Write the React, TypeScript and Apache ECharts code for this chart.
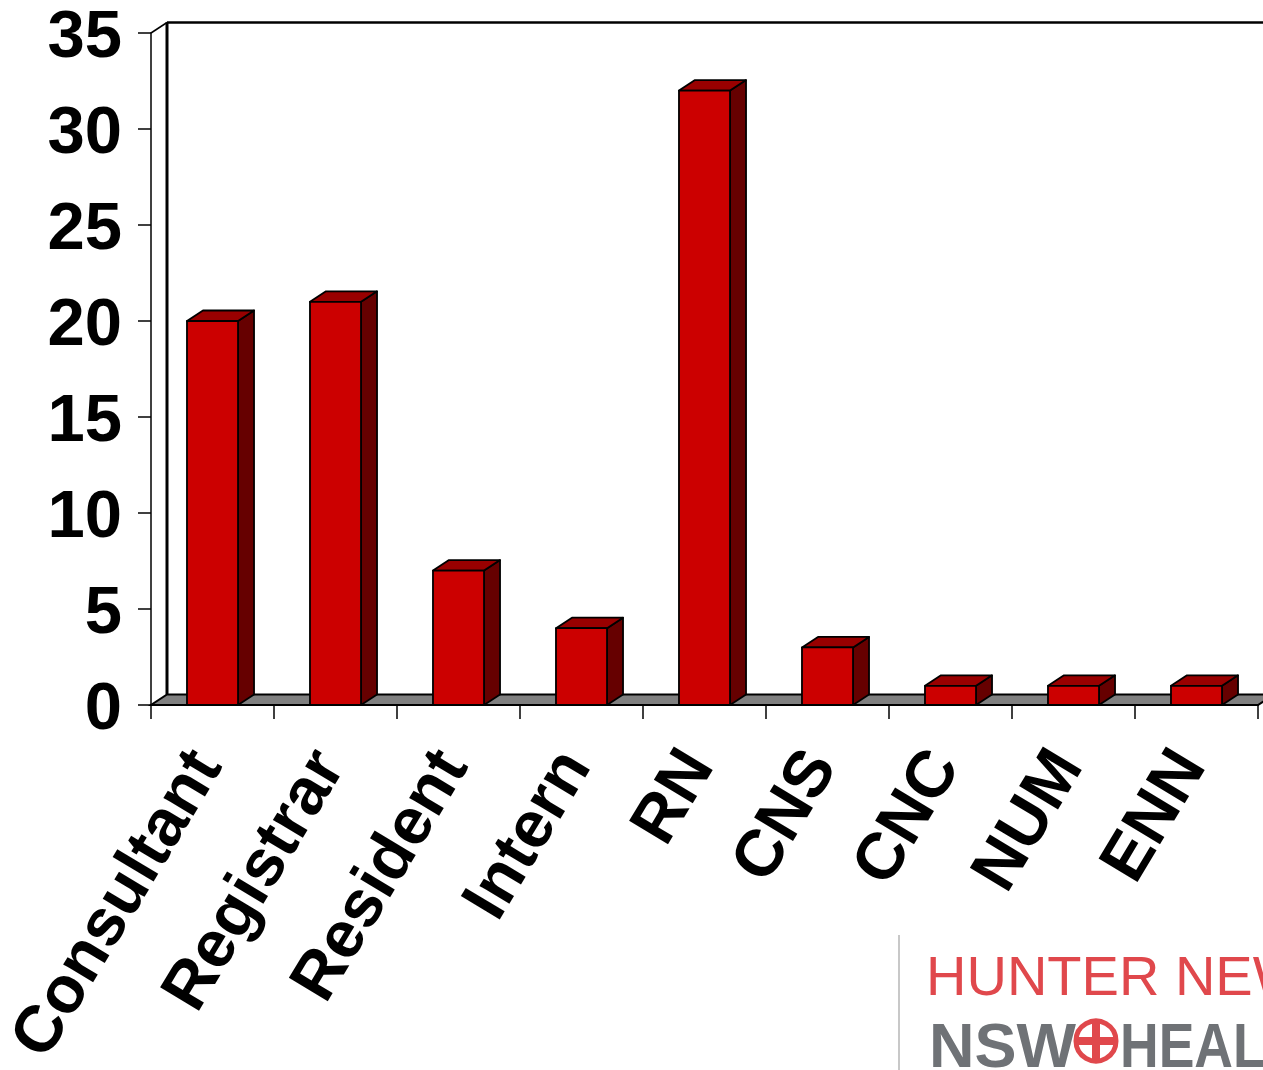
import React, { useEffect, useRef } from "react";
import * as echarts from "echarts";

// Staff group and number of respondents in each
const categories = ["Consultant", "Registrar", "Resident", "Intern", "RN", "CNS", "CNC", "NUM", "ENN"];
const counts = [20, 21, 7, 4, 32, 3, 1, 1, 1];

// Value axis range
const yMin = 0;
const yMax = 35;
const yStep = 5;

const FONT = '"Liberation Sans", Arial, Helvetica, sans-serif';

// Pseudo-3D depth offset (pixels) and bar width as share of a category band
const DEPTH_X = 16;
const DEPTH_Y = -10.5;
const BAR_RATIO = 0.415;

const FRONT = "#CC0000";
const SIDE = "#660000";
const TOP = "#990000";
const EDGE = "#000000";

function renderFrame(params: any) {
  const cs = params.coordSys;
  const x0 = cs.x;
  const x1 = cs.x + cs.width;
  const yTop = cs.y;
  const yBase = cs.y + cs.height;
  return {
    type: "group",
    children: [
      {
        type: "polygon",
        shape: {
          points: [
            [x0, yBase],
            [x1, yBase],
            [x1 + DEPTH_X, yBase + DEPTH_Y],
            [x0 + DEPTH_X, yBase + DEPTH_Y],
          ],
        },
        style: { fill: "#808080", stroke: EDGE, lineWidth: 2 },
      },
      {
        type: "line",
        shape: { x1: x0 + DEPTH_X, y1: yTop + DEPTH_Y, x2: x0 + DEPTH_X, y2: yBase + DEPTH_Y },
        style: { stroke: EDGE, lineWidth: 3 },
      },
      {
        type: "line",
        shape: { x1: x0 + DEPTH_X, y1: yTop + DEPTH_Y, x2: x1 + DEPTH_X + 30, y2: yTop + DEPTH_Y },
        style: { stroke: EDGE, lineWidth: 2.5 },
      },
      {
        type: "line",
        shape: { x1: x0, y1: yTop, x2: x0 + DEPTH_X, y2: yTop + DEPTH_Y },
        style: { stroke: EDGE, lineWidth: 1.5 },
      },
    ],
  };
}

function renderBar(params: any, api: any) {
  const idx = api.value(0);
  const val = api.value(1);
  const top = api.coord([idx, val]);
  const base = api.coord([idx, 0]);
  const band = api.size([1, 0])[0];
  const w = band * BAR_RATIO;
  const xl = top[0] - w / 2;
  const xr = top[0] + w / 2;
  const yt = top[1];
  const yb = base[1];
  const lw = 1.8;
  return {
    type: "group",
    children: [
      {
        type: "polygon",
        shape: { points: [[xr, yb], [xr + DEPTH_X, yb + DEPTH_Y], [xr + DEPTH_X, yt + DEPTH_Y], [xr, yt]] },
        style: { fill: SIDE, stroke: EDGE, lineWidth: lw, lineJoin: "round" },
      },
      {
        type: "polygon",
        shape: { points: [[xl, yt], [xl + DEPTH_X, yt + DEPTH_Y], [xr + DEPTH_X, yt + DEPTH_Y], [xr, yt]] },
        style: { fill: TOP, stroke: EDGE, lineWidth: lw, lineJoin: "round" },
      },
      {
        type: "polygon",
        shape: { points: [[xl, yt], [xr, yt], [xr, yb], [xl, yb]] },
        style: { fill: FRONT, stroke: EDGE, lineWidth: lw, lineJoin: "round" },
      },
    ],
  };
}

export default function App() {
  const ref = useRef<HTMLDivElement>(null);

  useEffect(() => {
    document.body.style.margin = "0";
    if (!ref.current) return;
    const chart = echarts.init(ref.current, undefined, { renderer: "svg" });

    const logoRed = "#E0484C";
    const logoGrey = "#6F7276";
    const cx = 1096;
    const cy = 1041;

    chart.setOption({
      animation: false,
      backgroundColor: "#ffffff",
      grid: {
        left: 151,
        top: 33,
        width: 1107,
        height: 672,
        containLabel: false,
        outerBoundsMode: "none",
      },
      xAxis: {
        type: "category",
        data: categories,
        axisLine: { show: true, lineStyle: { color: EDGE, width: 2 } },
        axisTick: { show: true, length: 14, lineStyle: { color: EDGE, width: 1.5 } },
        axisLabel: {
          rotate: 59,
          margin: 34,
          padding: [0, 18, 0, 0],
          fontSize: 66,
          fontWeight: "bold",
          fontFamily: FONT,
          color: "#000",
          interval: 0,
        },
        splitLine: { show: false },
      },
      yAxis: {
        type: "value",
        min: yMin,
        max: yMax,
        interval: yStep,
        axisLine: { show: true, lineStyle: { color: EDGE, width: 1.5 } },
        axisTick: { show: true, length: 13, lineStyle: { color: EDGE, width: 1.5 } },
        axisLabel: {
          margin: 29,
          fontSize: 67,
          fontWeight: "bold",
          fontFamily: FONT,
          color: "#000",
        },
        splitLine: { show: false },
      },
      series: [
        {
          type: "custom",
          name: "frame",
          z: 1,
          clip: false,
          silent: true,
          renderItem: renderFrame,
          data: [[0, 0]],
        },
        {
          type: "custom",
          name: "Respondents",
          z: 2,
          clip: false,
          renderItem: renderBar,
          encode: { x: 0, y: 1 },
          data: counts.map((v, i) => [i, v]),
        },
      ],
      graphic: [
        {
          type: "line",
          shape: { x1: 899, y1: 935, x2: 899, y2: 1070 },
          style: { stroke: "#C8C8C8", lineWidth: 2 },
        },
        {
          type: "text",
          x: 926,
          y: 975,
          style: {
            text: "HUNTER NEW",
            fontSize: 56,
            fontFamily: FONT,
            fill: logoRed,
            verticalAlign: "middle",
          },
        },
        {
          type: "text",
          x: 929,
          y: 1045,
          style: {
            text: "NSW",
            fontSize: 63,
            fontWeight: "bold",
            fontFamily: FONT,
            fill: logoGrey,
            verticalAlign: "middle",
          },
        },
        {
          type: "circle",
          shape: { cx, cy, r: 20 },
          style: { fill: "#fff", stroke: logoRed, lineWidth: 5 },
        },
        {
          type: "line",
          shape: { x1: cx - 21, y1: cy, x2: cx + 21, y2: cy },
          style: { stroke: logoRed, lineWidth: 8 },
        },
        {
          type: "line",
          shape: { x1: cx, y1: cy - 21, x2: cx, y2: cy + 21 },
          style: { stroke: logoRed, lineWidth: 8 },
        },
        {
          type: "text",
          x: 1120,
          y: 1045,
          scaleX: 0.85,
          style: {
            text: "HEAL",
            fontSize: 63,
            fontWeight: "bold",
            fontFamily: FONT,
            fill: logoGrey,
            verticalAlign: "middle",
          },
        },
      ],
    });

    return () => {
      chart.dispose();
    };
  }, []);

  return (
    <div
      ref={ref}
      style={{ position: "absolute", left: 0, top: 0, width: 1263, height: 1070, background: "#fff" }}
    />
  );
}
